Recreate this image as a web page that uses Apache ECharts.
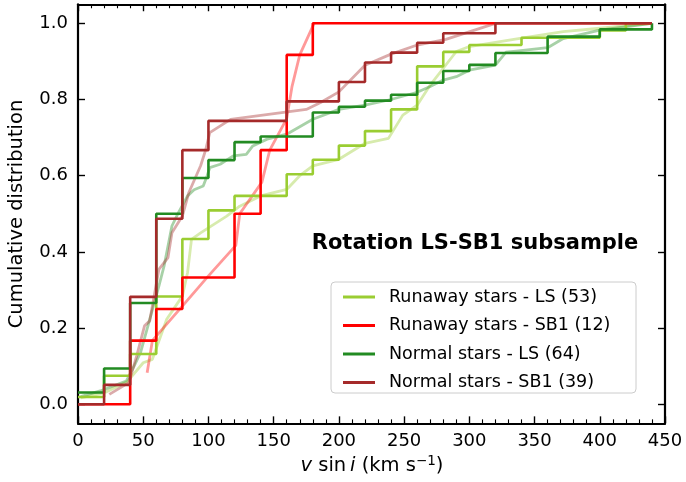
<!DOCTYPE html>
<html><head><meta charset="utf-8">
<script src="https://cdn.jsdelivr.net/npm/echarts@6/dist/echarts.min.js"></script>
<style>html,body{margin:0;padding:0;background:#fff}#c{width:686px;height:482px}</style>
</head><body><div id="c"></div>
<script>
// ---- data ----
const binEdges = [0,20,40,60,80,100,120,140,160,180,200,220,240,260,280,300,320,340,360,380,400,420,440];
const runawayLS  = [0.019,0.075,0.132,0.283,0.434,0.509,0.547,0.547,0.604,0.642,0.679,0.717,0.774,0.887,0.925,0.943,0.943,0.962,0.962,0.962,0.981,1.0,1.0];
const runawaySB1 = [0,0,0.167,0.25,0.333,0.333,0.5,0.667,0.917,1,1,1,1,1,1,1,1,1,1,1,1,1,1];
const normalLS   = [0.031,0.094,0.266,0.5,0.594,0.641,0.688,0.703,0.703,0.766,0.781,0.797,0.8125,0.844,0.875,0.891,0.922,0.922,0.965,0.965,0.984,0.984,1.0];
const normalSB1  = [0,0.051,0.282,0.487,0.667,0.744,0.744,0.744,0.795,0.795,0.846,0.897,0.923,0.949,0.974,0.974,1,1,1,1,1,1,1];

// unbinned cumulative curves (faint lines)
const runawayLSFaintX  = [2,20,38,50,57,68,80,84,87,94,114,124,140,160,170,180,200,220,238,249,260,270,290,300,340,372,400,440];
const runawayLSFaintY  = [0.017,0.03,0.06,0.109,0.118,0.223,0.284,0.346,0.433,0.45,0.494,0.52,0.547,0.564,0.6,0.626,0.643,0.685,0.698,0.759,0.785,0.838,0.926,0.939,0.961,0.978,0.987,1.0];
const runawaySB1FaintX = [53,57,78,99,121,124,141,147,160,164,170,181];
const runawaySB1FaintY = [0.083,0.167,0.25,0.333,0.417,0.5,0.583,0.667,0.75,0.833,0.917,1.0];
const normalLSFaintX   = [2,17,37,43,48,55,62,66,72,77,84,89,96,99,101,109,119,129,134,145,160,180,200,220,240,260,270,280,290,300,320,328,336,360,372,400,440];
const normalLSFaintY   = [0.02,0.035,0.061,0.1,0.136,0.223,0.31,0.363,0.468,0.503,0.547,0.563,0.573,0.6,0.621,0.63,0.652,0.656,0.678,0.696,0.709,0.748,0.774,0.785,0.8,0.819,0.834,0.851,0.86,0.877,0.89,0.924,0.927,0.936,0.96,0.982,1.0];
const normalSB1FaintX  = [24,39,45,51,55,62,69,72,80,85,94,98,101,117,175,186,200,220,240,260,282,320];
const normalSB1FaintY  = [0.026,0.057,0.127,0.206,0.219,0.354,0.385,0.45,0.494,0.556,0.626,0.669,0.713,0.748,0.774,0.792,0.82,0.89,0.919,0.943,0.958,1.0];

const seriesNames  = ['Runaway stars - LS (53)','Runaway stars - SB1 (12)','Normal stars - LS (64)','Normal stars - SB1 (39)'];
const seriesColors = ['#9acd32','#ff0000','#228b22','#a52a2a'];
const yTickValues  = [0,0.2,0.4,0.6,0.8,1.0];
const titleText    = 'Rotation LS-SB1 subsample';

// ---- build ----
const FONT = 'DejaVu Sans';
const zip = (xs, ys) => xs.map((x,i)=>[x, ys[i]]);
const stepVals  = [runawayLS, runawaySB1, normalLS, normalSB1];
const faintXs   = [runawayLSFaintX, runawaySB1FaintX, normalLSFaintX, normalSB1FaintX];
const faintYs   = [runawayLSFaintY, runawaySB1FaintY, normalLSFaintY, normalSB1FaintY];

const series = [];
for (let k=0;k<4;k++){
  series.push({type:'line', name:'faint'+k, data:zip(faintXs[k], faintYs[k]), symbol:'none', silent:true,
    xAxisIndex:0, yAxisIndex:0, z:1,
    lineStyle:{color:seriesColors[k], width:2.8, opacity:0.4}, itemStyle:{color:seriesColors[k]}});
}
for (let k=0;k<4;k++){
  series.push({type:'line', name:seriesNames[k], step:'end', data:zip(binEdges, stepVals[k]), symbol:'none', silent:true,
    xAxisIndex:0, yAxisIndex:0, z:3,
    lineStyle:{color:seriesColors[k], width:2.6}, itemStyle:{color:seriesColors[k]}});
}

const axLine = {show:true, onZero:false, lineStyle:{color:'#000', width:2.2}};
const tickStyle = {color:'#000', width:1.4};
const xBase = (pos, showLabel) => ({type:'value', min:0, max:450, interval:50, position:pos,
  axisLine:axLine, splitLine:{show:false},
  axisTick:{show:true, inside:true, length:7, lineStyle:tickStyle},
  minorTick:{show:true, splitNumber:5, length:4, lineStyle:{color:'#000', width:1.1}},
  axisLabel:{show:showLabel, fontSize:18, color:'#000', fontFamily:FONT, margin:9}});
const yBase = (pos, showLabel) => ({type:'value', min:-0.05, max:1.05, position:pos,
  axisLine:axLine, splitLine:{show:false},
  axisTick:{show:true, inside:true, length:7, lineStyle:tickStyle, customValues:yTickValues},
  axisLabel:{show:showLabel, customValues:yTickValues, formatter:v=>v.toFixed(1), fontSize:18, color:'#000', fontFamily:FONT, margin:10}});

const option = {
  animation:false,
  backgroundColor:'#fff',
  grid:{left:78, right:21, top:4.25, bottom:58.65, containLabel:false, outerBoundsMode:'none'},
  xAxis:[xBase('bottom', true), xBase('top', false)],
  yAxis:[yBase('left', true), yBase('right', false)],
  legend:{data:seriesNames, orient:'vertical', left:343, top:287, padding:0, itemGap:8.5,
    itemWidth:32, itemHeight:3, icon:'rect', selectedMode:false, z:10,
    textStyle:{fontSize:17.5, color:'#000', fontFamily:FONT, lineHeight:20, padding:[0,0,0,9]}},
  graphic:[
    {type:'rect', z:8, shape:{x:331, y:282, width:305, height:111, r:4},
     style:{fill:'rgba(255,255,255,0.8)', stroke:'#cccccc', lineWidth:1}},
    {type:'text', z:9, x:475, y:244, style:{text:titleText, font:'bold 21px "DejaVu Sans"', fill:'#000', align:'center', verticalAlign:'middle'}},
    {type:'text', z:9, x:17, y:214, rotation:Math.PI/2,
     style:{text:'Cumulative distribution', font:'19.5px "DejaVu Sans"', fill:'#000', align:'center', verticalAlign:'middle'}},
    {type:'text', z:9, x:372, y:466,
     style:{text:'{it|v} sin\u2009{it|i} (km s{sup|\u22121})', fill:'#000', align:'center', verticalAlign:'middle',
       fontSize:19.5, fontFamily:FONT, lineHeight:24,
       rich:{it:{fontStyle:'italic', fontSize:19.5, fontFamily:FONT, lineHeight:24},
             sup:{fontSize:13.5, fontFamily:FONT, lineHeight:14, verticalAlign:'top'}}}}
  ],
  series:series
};
const chart = echarts.init(document.getElementById('c'));
chart.setOption(option);
</script></body></html>
